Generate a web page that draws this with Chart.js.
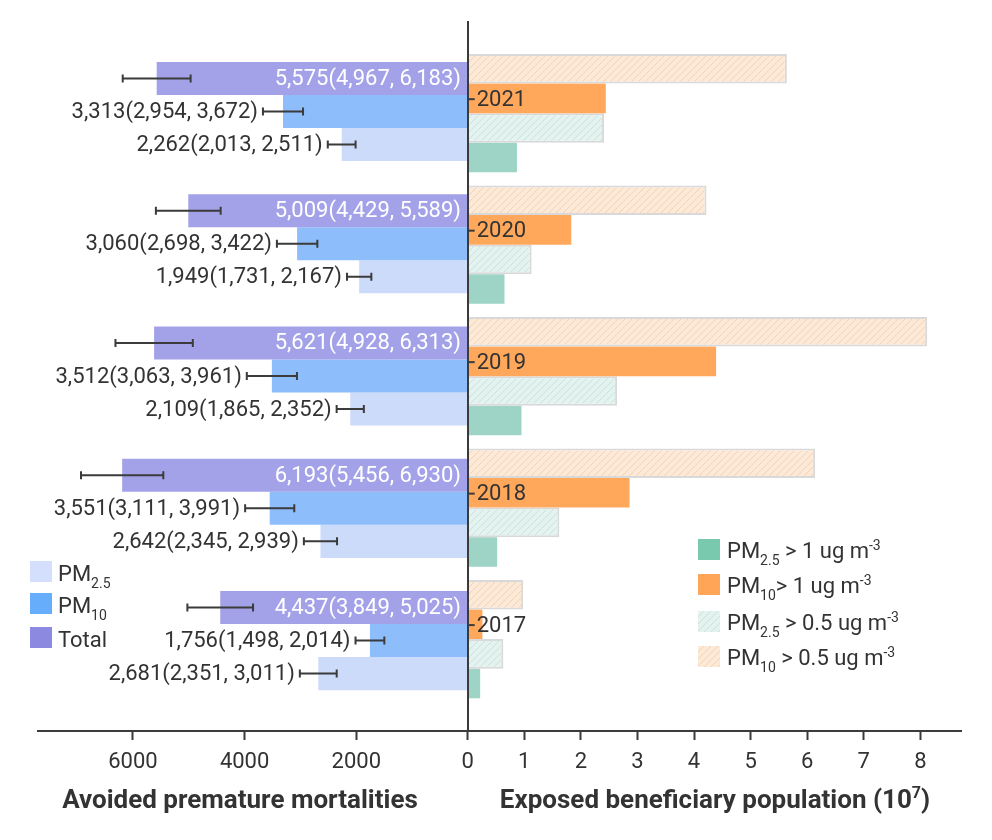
<!DOCTYPE html>
<html lang="en">
<head>
<meta charset="UTF-8">
<title>Avoided premature mortalities and exposed beneficiary population</title>
<script src="https://cdn.jsdelivr.net/npm/chart.js@4"></script>
<style>
    html, body { margin: 0; padding: 0; background: #fff; }
    .wrap { position: relative; width: 992px; height: 840px; }
    .panel { position: absolute; top: 0; height: 840px; }
    #leftPanel { left: 0; width: 468px; }
    #rightPanel { left: 440px; width: 552px; }
</style>
</head>
<body>
<div class="wrap">
    <div class="panel" id="leftPanel"><canvas id="leftChart"></canvas></div>
    <div class="panel" id="rightPanel"><canvas id="rightChart"></canvas></div>
</div>
<script>
// data (top to bottom)
const years = [2021, 2020, 2019, 2018, 2017];

const total     = [5575, 5009, 5621, 6193, 4437];
const totalLow  = [4967, 4429, 4928, 5456, 3849];
const totalHigh = [6183, 5589, 6313, 6930, 5025];
const pm10      = [3313, 3060, 3512, 3551, 1756];
const pm10Low   = [2954, 2698, 3063, 3111, 1498];
const pm10High  = [3672, 3422, 3961, 3991, 2014];
const pm25      = [2262, 1949, 2109, 2642, 2681];
const pm25Low   = [2013, 1731, 1865, 2345, 2351];
const pm25High  = [2511, 2167, 2352, 2939, 3011];

// exposed beneficiary population, 10^7
const popPm10Half = [5.64, 4.22, 8.12, 6.14, 0.98];
const popPm10One  = [2.44, 1.83, 4.39, 2.86, 0.26];
const popPm25Half = [2.41, 1.13, 2.64, 1.62, 0.63];
const popPm25One  = [0.87, 0.65, 0.95, 0.52, 0.22];

const mortalityTicks  = [0, 2000, 4000, 6000];
const populationTicks = [0, 1, 2, 3, 4, 5, 6, 7, 8];

Chart.defaults.font.family = 'Roboto';
Chart.defaults.font.size = 22;
Chart.defaults.color = '#333';

const INK = '#333';
const AXIS = '#3b3b3b';
const RIGHT_OFFSET = 440; // left edge of the right canvas on the page

const fmt = v => v.toLocaleString('en-US');
const points = vals => vals.map((v, i) => ({ x: v, y: years[i] }));
const yearTicks = s => { s.ticks = years.map(v => ({ value: v })); };

function hatch(ctx, base, line) {
    const c = document.createElement('canvas');
    c.width = c.height = 7;
    const g = c.getContext('2d');
    g.fillStyle = base;
    g.fillRect(0, 0, 7, 7);
    g.strokeStyle = line;
    g.lineWidth = 1;
    g.beginPath();
    g.moveTo(0, 7); g.lineTo(7, 0);
    g.moveTo(-1, 1); g.lineTo(1, -1);
    g.moveTo(6, 8); g.lineTo(8, 6);
    g.stroke();
    return ctx.createPattern(c, 'repeat');
}

// text with sub / superscripts: parts = [[text, 'sub'|'sup'|undefined], ...]
function richText(ctx, parts, x, y, align, size, weight) {
    const big = `${weight} ${size}px Roboto`;
    const small = `${weight} ${Math.round(size * 0.62)}px Roboto`;
    let w = 0;
    parts.forEach(p => { ctx.font = p[1] ? small : big; w += ctx.measureText(p[0]).width; });
    let cx = align === 'center' ? x - w / 2 : x;
    ctx.textAlign = 'left';
    ctx.textBaseline = 'alphabetic';
    parts.forEach(p => {
        ctx.font = p[1] ? small : big;
        const dy = p[1] === 'sub' ? size * 0.3 : (p[1] === 'sup' ? -size * 0.38 : 0);
        ctx.fillText(p[0], cx, y + dy);
        cx += ctx.measureText(p[0]).width;
    });
}

// ---------- left: avoided premature mortalities ----------
const ciLow  = [totalLow, pm10Low, pm25Low];
const ciHigh = [totalHigh, pm10High, pm25High];

const leftExtras = {
    id: 'leftExtras',
    afterDatasetsDraw(chart) {
        const ctx = chart.ctx;
        const xs = chart.scales.x;
        const area = chart.chartArea;
        ctx.save();
        chart.data.datasets.forEach((ds, di) => {
            const meta = chart.getDatasetMeta(di);
            meta.data.forEach((bar, i) => {
                const y = bar.y;
                const xl = xs.getPixelForValue(ciHigh[di][i]);
                const xr = xs.getPixelForValue(ciLow[di][i]);
                // error bar
                ctx.strokeStyle = AXIS;
                ctx.lineWidth = 2;
                ctx.beginPath();
                ctx.moveTo(xl, y); ctx.lineTo(xr, y);
                ctx.moveTo(xl, y - 4); ctx.lineTo(xl, y + 4);
                ctx.moveTo(xr, y - 4); ctx.lineTo(xr, y + 4);
                ctx.stroke();
                // value label
                const txt = `${fmt(ds.data[i].x)}(${fmt(ciLow[di][i])}, ${fmt(ciHigh[di][i])})`;
                ctx.font = '22px Roboto';
                ctx.textAlign = 'right';
                ctx.textBaseline = 'middle';
                if (di === 0) {
                    ctx.fillStyle = '#fff';
                    ctx.fillText(txt, area.right - 7, y + 1);
                } else {
                    ctx.fillStyle = INK;
                    ctx.fillText(txt, xl - 5, y + 1);
                }
            });
        });
        // legend
        const items = [
            [[['PM'], ['2.5', 'sub']], '#d3dffc', 561],
            [[['PM'], ['10', 'sub']], '#66adfc', 593],
            [[['Total']], '#8c8ae0', 627]
        ];
        items.forEach(([parts, color, top]) => {
            ctx.fillStyle = color;
            ctx.fillRect(30, top, 22, 21);
            ctx.fillStyle = INK;
            richText(ctx, parts, 58, top + 20, 'left', 22, 'normal');
        });
        // axis title
        ctx.fillStyle = INK;
        richText(ctx, [['Avoided premature mortalities']], 240, 808, 'center', 26, 'bold');
        ctx.restore();
    }
};

new Chart(document.getElementById('leftChart'), {
    type: 'bar',
    data: {
        datasets: [
            { label: 'Total', data: points(total), backgroundColor: '#a3a2e8' },
            { label: 'PM10', data: points(pm10), backgroundColor: '#8dbdfb' },
            { label: 'PM2.5', data: points(pm25), backgroundColor: '#cddbfb' }
        ]
    },
    options: {
        indexAxis: 'y',
        responsive: true,
        maintainAspectRatio: false,
        animation: false,
        categoryPercentage: 0.75,
        barPercentage: 1,
        layout: { padding: { left: 38, right: 0, top: 18, bottom: 49 } },
        plugins: { legend: { display: false }, tooltip: { enabled: false } },
        scales: {
            x: {
                type: 'linear',
                reverse: true,
                min: 0,
                max: 7700,
                afterBuildTicks: s => { s.ticks = mortalityTicks.map(v => ({ value: v })); },
                afterFit: s => { s.height = 60; },
                ticks: {
                    padding: 9,
                    color: INK,
                    font: { size: 22 },
                    callback: v => (v === 0 ? '' : String(v))
                },
                grid: { drawOnChartArea: false, drawTicks: true, tickLength: 9, tickWidth: 2, tickColor: AXIS },
                border: { display: true, color: AXIS, width: 2 }
            },
            y: {
                type: 'linear',
                display: false,
                offset: false,
                min: 2016.316,
                max: 2021.707,
                afterBuildTicks: yearTicks
            }
        }
    },
    plugins: [leftExtras]
});

// ---------- right: exposed beneficiary population ----------
const rightCanvas = document.getElementById('rightChart');
const rctx = rightCanvas.getContext('2d');
const hatchOrange = hatch(rctx, '#fde9d7', '#f3d1b3');
const hatchTeal = hatch(rctx, '#e4f3ef', '#c8e3db');

const rightExtras = {
    id: 'rightExtras',
    afterDraw(chart) {
        const ctx = chart.ctx;
        const ys = chart.scales.y;
        const area = chart.chartArea;
        ctx.save();
        // small ticks next to the year labels
        ctx.strokeStyle = AXIS;
        ctx.lineWidth = 2;
        years.forEach(yr => {
            const y = ys.getPixelForValue(yr) - 14;
            ctx.beginPath();
            ctx.moveTo(area.left, y);
            ctx.lineTo(area.left + 7, y);
            ctx.stroke();
        });
        // legend
        const o = RIGHT_OFFSET;
        const items = [
            [[['PM'], ['2.5', 'sub'], [' > 1 ug m'], ['-3', 'sup']], '#79c9ae', 539],
            [[['PM'], ['10', 'sub'], ['> 1 ug m'], ['-3', 'sup']], '#ffa557', 574],
            [[['PM'], ['2.5', 'sub'], [' > 0.5 ug m'], ['-3', 'sup']], hatchTeal, 611],
            [[['PM'], ['10', 'sub'], [' > 0.5 ug m'], ['-3', 'sup']], hatchOrange, 646]
        ];
        items.forEach(([parts, color, top]) => {
            ctx.fillStyle = color;
            ctx.fillRect(698 - o, top, 22, 21);
            ctx.fillStyle = INK;
            richText(ctx, parts, 727 - o, top + 19, 'left', 22, 'normal');
        });
        // axis title
        ctx.fillStyle = INK;
        richText(ctx, [['Exposed beneficiary population (10'], ['7', 'sup'], [')']], 715 - o, 808, 'center', 26, 'bold');
        ctx.restore();
    }
};

new Chart(rightCanvas, {
    type: 'bar',
    data: {
        datasets: [
            { label: 'PM10 > 0.5 ug m-3', data: points(popPm10Half), backgroundColor: hatchOrange, borderColor: '#d9d9d9', borderWidth: 2 },
            { label: 'PM10 > 1 ug m-3', data: points(popPm10One), backgroundColor: '#ffa85c' },
            { label: 'PM2.5 > 0.5 ug m-3', data: points(popPm25Half), backgroundColor: hatchTeal, borderColor: '#d9d9d9', borderWidth: 2 },
            { label: 'PM2.5 > 1 ug m-3', data: points(popPm25One), backgroundColor: '#9dd4c6' }
        ]
    },
    options: {
        indexAxis: 'y',
        responsive: true,
        maintainAspectRatio: false,
        animation: false,
        categoryPercentage: 0.9,
        barPercentage: 1,
        layout: { padding: { left: 27.7, right: 30.3, top: 18, bottom: 49 } },
        plugins: { legend: { display: false }, tooltip: { enabled: false } },
        scales: {
            x: {
                type: 'linear',
                min: 0,
                max: 8.73,
                afterBuildTicks: s => { s.ticks = populationTicks.map(v => ({ value: v })); },
                afterFit: s => { s.height = 60; },
                ticks: { padding: 9, color: INK, font: { size: 22 }, callback: v => String(v) },
                grid: { drawOnChartArea: false, drawTicks: true, tickLength: 9, tickWidth: 2, tickColor: AXIS },
                border: { display: true, color: AXIS, width: 2 }
            },
            y: {
                type: 'linear',
                position: 'left',
                offset: false,
                min: 2016.301,
                max: 2021.692,
                afterBuildTicks: yearTicks,
                afterFit: s => { s.width = 0; },
                ticks: {
                    mirror: true,
                    padding: 9,
                    labelOffset: -13,
                    z: 1,
                    color: INK,
                    font: { size: 22 },
                    callback: v => String(v)
                },
                grid: { display: false },
                border: { display: true, color: AXIS, width: 2, z: 1 }
            }
        }
    },
    plugins: [rightExtras]
});
</script>
</body>
</html>
